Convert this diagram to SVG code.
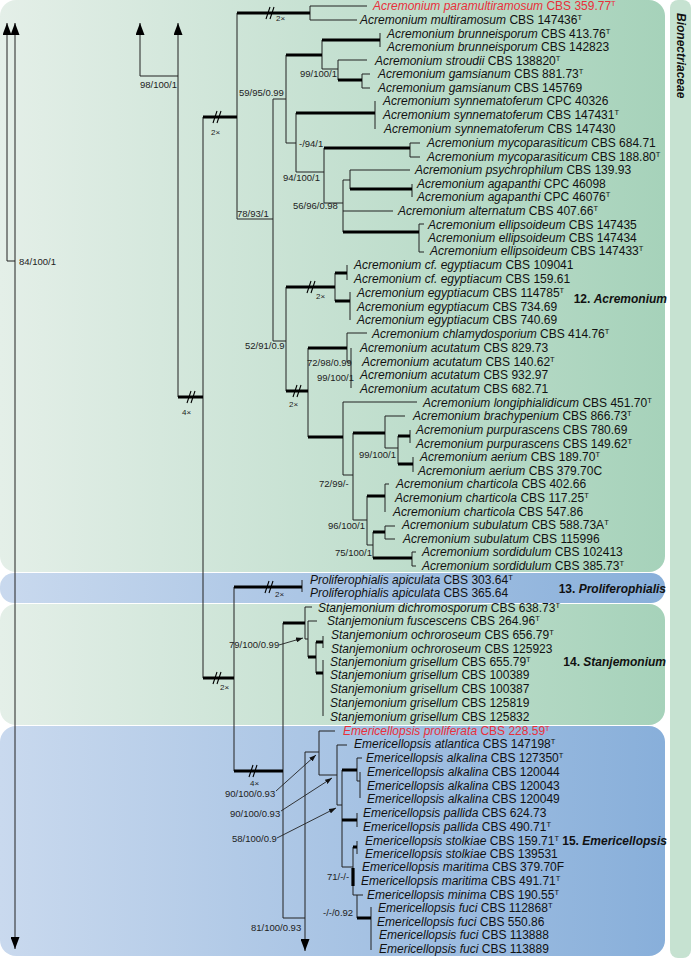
<svg xmlns="http://www.w3.org/2000/svg" xmlns:xlink="http://www.w3.org/1999/xlink" width="691" height="958" viewBox="0 0 691 958">
<style>
text{font-family:"Liberation Sans",Arial,sans-serif}
.t{font-size:12px;fill:#111}
.i{font-style:italic}
.s{font-size:7.5px}
.r{fill:#e8303a}
.sv{font-size:9.5px;fill:#222}
.m{font-size:8px;fill:#222}
.cl{font-size:12px;font-weight:bold;text-anchor:end;fill:#111}
.b{fill:none;stroke:#222;stroke-width:1}
.k{fill:none;stroke:#000;stroke-width:3.2}
.ld{fill:none;stroke:#222;stroke-width:0.9}
</style>
<defs>
<linearGradient id="gg" x1="0" y1="0" x2="1" y2="0"><stop offset="0" stop-color="#e4efe8"/><stop offset="1" stop-color="#a6d2ba"/></linearGradient>
<linearGradient id="bg" x1="0" y1="0" x2="1" y2="0"><stop offset="0" stop-color="#c9d9ee"/><stop offset="1" stop-color="#88afda"/></linearGradient>
<marker id="ah" viewBox="0 0 12 9" refX="12" refY="4.5" markerWidth="12" markerHeight="9" markerUnits="userSpaceOnUse" orient="auto-start-reverse"><path d="M0,0 L12,4.5 L0,9 z" fill="#000"/></marker>
<marker id="sa" viewBox="0 0 7 5" refX="7" refY="2.5" markerWidth="7" markerHeight="5" markerUnits="userSpaceOnUse" orient="auto"><path d="M0,0 L7,2.5 L0,5 z" fill="#111"/></marker>
<path id="brk" d="M-5,6 L-1,-6 M-1,6 L3,-6" stroke="#000" stroke-width="1.1" fill="none"/>
</defs>

<g id="backgrounds">
<rect x="0" y="0" width="665" height="572" rx="16" fill="url(#gg)"/>
<rect x="0" y="573" width="665" height="30" rx="14" fill="url(#bg)"/>
<rect x="0" y="604" width="665" height="121" rx="16" fill="url(#gg)"/>
<rect x="0" y="726" width="665" height="230" rx="16" fill="url(#bg)"/>
<rect x="670" y="0" width="21" height="958" rx="8" fill="#c6e2d1"/>
</g>

<g id="connectors">
<path class="b" d="M15,261 H7 V23" marker-end="url(#ah)"/>
<path class="b" d="M15,949 V23" marker-start="url(#ah)" marker-end="url(#ah)"/>
<path class="b" d="M178,76 H140 V23" marker-end="url(#ah)"/>
<path class="b" d="M178,397 V23" marker-end="url(#ah)"/>
<path class="b" d="M319,752 H305 V951" marker-end="url(#ah)"/>
<path class="b" d="M203,117 V678 M237,13 V219 M310,6 V20 M310,6 H367 M310,20 H357
M237,219 H273 M273,99 V341 M273,99 H286 M286,55 V143
M322,40 V69 M322,69 H338 M338,60 V80 M338,60 H367 M380,33 V47
M362,74 V88 M362,74 H370 M362,88 H370
M286,143 H296 M296,113 V172 M375,101 V129
M296,172 H324 M324,148 V203 M410,143 V157 M410,143 H420 M410,157 H420
M324,203 H343 M343,180 V232 M343,180 H350 M350,170 V189 M350,170 H410 M412,184 V197
M343,211 H393 M419,224 V252 M419,224 H424 M419,252 H424
M273,341 H286 M286,287 V391 M335,273 V301 M347,265 V280 M350,292 V320
M308,348 V437 M347,333 V362 M347,333 H367 M347,362 H351 M351,348 V388
M343,402 V475 M343,402 H417 M343,475 H353 M353,433 V520
M385,416 V448 M385,416 H405 M385,448 H398 M398,436 V464 M410,430 V443 M413,457 V472
M353,520 H367 M367,496 V545 M385,484 V512 M385,484 H389
M367,545 H373 M373,532 V558 M385,526 V539 M385,526 H395 M385,539 H395
M412,552 V566 M412,552 H416 M412,566 H416
M234,587 V771 M302,580 V592 M283,623 V918
M305,607 V639 M305,607 H312 M305,639 H308 M308,621 V657 M308,621 H317
M316,642 V673 M323,636 V648 M323,660 V716
M283,918 H305
M319,731 V775 M319,731 H335 M319,775 H337
M337,745 V805 M337,745 H347 M337,805 H342 M342,770 V867
M357,758 V781 M357,758 H362 M357,781 H360 M360,772 V798 M357,813 V827
M342,867 H353 M353,847 V895 M353,895 H363 M357,841 V854 M357,895 V918 M371,907 V950"/>
<path class="k" d="M178,397 H203 M203,117 H237 M203,678 H234 M237,13 H310
M286,55 H322 M322,40 H380 M338,80 H362 M296,113 H375 M324,148 H410 M350,189 H412 M343,232 H419
M286,287 H335 M335,273 H347 M335,301 H350 M286,391 H308 M308,348 H347 M308,437 H343
M353,433 H385 M398,436 H410 M398,464 H413 M367,496 H385 M373,532 H385 M373,558 H412
M234,587 H302 M234,771 H283 M283,623 H305 M308,657 H316 M316,642 H323 M316,673 H323
M342,770 H357 M342,820 H357 M353,847 H357 M353,868 V886 M357,918 H371"/>
<use xlink:href="#brk" href="#brk" x="218" y="117"/>
<use xlink:href="#brk" href="#brk" x="271" y="13"/>
<use xlink:href="#brk" href="#brk" x="312" y="287"/>
<use xlink:href="#brk" href="#brk" x="298" y="391"/>
<use xlink:href="#brk" href="#brk" x="192" y="397"/>
<use xlink:href="#brk" href="#brk" x="270" y="587"/>
<use xlink:href="#brk" href="#brk" x="218" y="678"/>
<use xlink:href="#brk" href="#brk" x="254" y="771"/>
<path class="ld" d="M279,645 L303,638" marker-end="url(#sa)"/>
<path class="ld" d="M276,791 L316,755" marker-end="url(#sa)"/>
<path class="ld" d="M281,811 L332,778" marker-end="url(#sa)"/>
<path class="ld" d="M277,838 L336,808" marker-end="url(#sa)"/>
</g>

<g id="support-labels">
<text class="sv" x="19" y="265">84/100/1</text>
<text class="sv" x="140" y="88">98/100/1</text>
<text class="sv" x="239" y="96">59/95/0.99</text>
<text class="sv" x="300" y="77">99/100/1</text>
<text class="sv" x="299" y="147">-/94/1</text>
<text class="sv" x="283" y="181">94/100/1</text>
<text class="sv" x="293" y="209">56/96/0.98</text>
<text class="sv" x="237" y="217">78/93/1</text>
<text class="sv" x="245" y="349">52/91/0.9</text>
<text class="sv" x="307" y="366">72/98/0.99</text>
<text class="sv" x="317" y="381">99/100/1</text>
<text class="sv" x="359" y="458">99/100/1</text>
<text class="sv" x="319" y="487">72/99/-</text>
<text class="sv" x="328" y="529">96/100/1</text>
<text class="sv" x="335" y="556">75/100/1</text>
<text class="sv" x="229" y="648">79/100/0.99</text>
<text class="sv" x="225" y="797">90/100/0.93</text>
<text class="sv" x="230" y="817">90/100/0.93</text>
<text class="sv" x="232" y="842">58/100/0.9</text>
<text class="sv" x="251" y="931">81/100/0.93</text>
<text class="sv" x="327" y="880">71/-/-</text>
<text class="sv" x="323" y="916">-/-/0.92</text>
<text class="m" x="211" y="135">2×</text>
<text class="m" x="276" y="21">2×</text>
<text class="m" x="316" y="299">2×</text>
<text class="m" x="289" y="407">2×</text>
<text class="m" x="182" y="415">4×</text>
<text class="m" x="275" y="597">2×</text>
<text class="m" x="220" y="690">2×</text>
<text class="m" x="250" y="786">4×</text>
</g>

<g id="clade-labels">
<g id="c12"><text class="cl" x="667" y="303">12. <tspan class="i">Acremonium</tspan></text></g>
<g id="c13"><text class="cl" x="666" y="593">13. <tspan class="i">Proliferophialis</tspan></text></g>
<g id="c14"><text class="cl" x="666" y="666">14. <tspan class="i">Stanjemonium</tspan></text></g>
<g id="c15"><text class="cl" x="667" y="845">15. <tspan class="i">Emericellopsis</tspan></text></g>
<g id="family"><text transform="translate(677,13) rotate(90)" font-size="12" font-weight="bold" font-style="italic" fill="#111">Bionectriaceae</text></g>
</g>

<g id="taxa">
<g id="a01"><text class="t r" x="373" y="10"><tspan class="i">Acremonium paramultiramosum</tspan> CBS 359.77<tspan class="s" dy="-4.5">T</tspan></text></g>
<g id="a02"><text class="t" x="360" y="24"><tspan class="i">Acremonium multiramosum</tspan> CBS 147436<tspan class="s" dy="-4.5">T</tspan></text></g>
<g id="a03"><text class="t" x="387" y="38"><tspan class="i">Acremonium brunneisporum</tspan> CBS 413.76<tspan class="s" dy="-4.5">T</tspan></text></g>
<g id="a04"><text class="t" x="387" y="51"><tspan class="i">Acremonium brunneisporum</tspan> CBS 142823</text></g>
<g id="a05"><text class="t" x="375" y="65"><tspan class="i">Acremonium stroudii</tspan> CBS 138820<tspan class="s" dy="-4.5">T</tspan></text></g>
<g id="a06"><text class="t" x="378" y="78"><tspan class="i">Acremonium gamsianum</tspan> CBS 881.73<tspan class="s" dy="-4.5">T</tspan></text></g>
<g id="a07"><text class="t" x="378" y="92"><tspan class="i">Acremonium gamsianum</tspan> CBS 145769</text></g>
<g id="a08"><text class="t" x="383" y="105"><tspan class="i">Acremonium synnematoferum</tspan> CPC 40326</text></g>
<g id="a09"><text class="t" x="383" y="119"><tspan class="i">Acremonium synnematoferum</tspan> CBS 147431<tspan class="s" dy="-4.5">T</tspan></text></g>
<g id="a10"><text class="t" x="384" y="133"><tspan class="i">Acremonium synnematoferum</tspan> CBS 147430</text></g>
<g id="a11"><text class="t" x="427" y="147"><tspan class="i">Acremonium mycoparasiticum</tspan> CBS 684.71</text></g>
<g id="a12"><text class="t" x="427" y="161"><tspan class="i">Acremonium mycoparasiticum</tspan> CBS 188.80<tspan class="s" dy="-4.5">T</tspan></text></g>
<g id="a13"><text class="t" x="415" y="174"><tspan class="i">Acremonium psychrophilum</tspan> CBS 139.93</text></g>
<g id="a14"><text class="t" x="417" y="188"><tspan class="i">Acremonium agapanthi</tspan> CPC 46098</text></g>
<g id="a15"><text class="t" x="417" y="201"><tspan class="i">Acremonium agapanthi</tspan> CPC 46076<tspan class="s" dy="-4.5">T</tspan></text></g>
<g id="a16"><text class="t" x="398" y="215"><tspan class="i">Acremonium alternatum</tspan> CBS 407.66<tspan class="s" dy="-4.5">T</tspan></text></g>
<g id="a17"><text class="t" x="428" y="229"><tspan class="i">Acremonium ellipsoideum</tspan> CBS 147435</text></g>
<g id="a18"><text class="t" x="428" y="242"><tspan class="i">Acremonium ellipsoideum</tspan> CBS 147434</text></g>
<g id="a19"><text class="t" x="430" y="255"><tspan class="i">Acremonium ellipsoideum</tspan> CBS 147433<tspan class="s" dy="-4.5">T</tspan></text></g>
<g id="a20"><text class="t" x="354" y="269"><tspan class="i">Acremonium cf. egyptiacum</tspan> CBS 109041</text></g>
<g id="a21"><text class="t" x="354" y="283"><tspan class="i">Acremonium cf. egyptiacum</tspan> CBS 159.61</text></g>
<g id="a22"><text class="t" x="357" y="297"><tspan class="i">Acremonium egyptiacum</tspan> CBS 114785<tspan class="s" dy="-4.5">T</tspan></text></g>
<g id="a23"><text class="t" x="357" y="311"><tspan class="i">Acremonium egyptiacum</tspan> CBS 734.69</text></g>
<g id="a24"><text class="t" x="357" y="324"><tspan class="i">Acremonium egyptiacum</tspan> CBS 740.69</text></g>
<g id="a25"><text class="t" x="372" y="338"><tspan class="i">Acremonium chlamydosporium</tspan> CBS 414.76<tspan class="s" dy="-4.5">T</tspan></text></g>
<g id="a26"><text class="t" x="360" y="352"><tspan class="i">Acremonium acutatum</tspan> CBS 829.73</text></g>
<g id="a27"><text class="t" x="362" y="366"><tspan class="i">Acremonium acutatum</tspan> CBS 140.62<tspan class="s" dy="-4.5">T</tspan></text></g>
<g id="a28"><text class="t" x="360" y="379"><tspan class="i">Acremonium acutatum</tspan> CBS 932.97</text></g>
<g id="a29"><text class="t" x="360" y="393"><tspan class="i">Acremonium acutatum</tspan> CBS 682.71</text></g>
<g id="a30"><text class="t" x="423" y="407"><tspan class="i">Acremonium longiphialidicum</tspan> CBS 451.70<tspan class="s" dy="-4.5">T</tspan></text></g>
<g id="a31"><text class="t" x="413" y="420"><tspan class="i">Acremonium brachypenium</tspan> CBS 866.73<tspan class="s" dy="-4.5">T</tspan></text></g>
<g id="a32"><text class="t" x="416" y="434"><tspan class="i">Acremonium purpurascens</tspan> CBS 780.69</text></g>
<g id="a33"><text class="t" x="416" y="448"><tspan class="i">Acremonium purpurascens</tspan> CBS 149.62<tspan class="s" dy="-4.5">T</tspan></text></g>
<g id="a34"><text class="t" x="420" y="461"><tspan class="i">Acremonium aerium</tspan> CBS 189.70<tspan class="s" dy="-4.5">T</tspan></text></g>
<g id="a35"><text class="t" x="418" y="475"><tspan class="i">Acremonium aerium</tspan> CBS 379.70C</text></g>
<g id="a36"><text class="t" x="396" y="488"><tspan class="i">Acremonium charticola</tspan> CBS 402.66</text></g>
<g id="a37"><text class="t" x="395" y="502"><tspan class="i">Acremonium charticola</tspan> CBS 117.25<tspan class="s" dy="-4.5">T</tspan></text></g>
<g id="a38"><text class="t" x="393" y="516"><tspan class="i">Acremonium charticola</tspan> CBS 547.86</text></g>
<g id="a39"><text class="t" x="402" y="529"><tspan class="i">Acremonium subulatum</tspan> CBS 588.73A<tspan class="s" dy="-4.5">T</tspan></text></g>
<g id="a40"><text class="t" x="403" y="543"><tspan class="i">Acremonium subulatum</tspan> CBS 115996</text></g>
<g id="a41"><text class="t" x="422" y="556"><tspan class="i">Acremonium sordidulum</tspan> CBS 102413</text></g>
<g id="a42"><text class="t" x="422" y="570"><tspan class="i">Acremonium sordidulum</tspan> CBS 385.73<tspan class="s" dy="-4.5">T</tspan></text></g>
<g id="p01"><text class="t" x="310" y="584"><tspan class="i">Proliferophialis apiculata</tspan> CBS 303.64<tspan class="s" dy="-4.5">T</tspan></text></g>
<g id="p02"><text class="t" x="310" y="597"><tspan class="i">Proliferophialis apiculata</tspan> CBS 365.64</text></g>
<g id="s01"><text class="t" x="318" y="612"><tspan class="i">Stanjemonium dichromosporum</tspan> CBS 638.73<tspan class="s" dy="-4.5">T</tspan></text></g>
<g id="s02"><text class="t" x="327" y="625"><tspan class="i">Stanjemonium fuscescens</tspan> CBS 264.96<tspan class="s" dy="-4.5">T</tspan></text></g>
<g id="s03"><text class="t" x="331" y="639"><tspan class="i">Stanjemonium ochroroseum</tspan> CBS 656.79<tspan class="s" dy="-4.5">T</tspan></text></g>
<g id="s04"><text class="t" x="331" y="653"><tspan class="i">Stanjemonium ochroroseum</tspan> CBS 125923</text></g>
<g id="s05"><text class="t" x="330" y="666"><tspan class="i">Stanjemonium grisellum</tspan> CBS 655.79<tspan class="s" dy="-4.5">T</tspan></text></g>
<g id="s06"><text class="t" x="330" y="679"><tspan class="i">Stanjemonium grisellum</tspan> CBS 100389</text></g>
<g id="s07"><text class="t" x="330" y="693"><tspan class="i">Stanjemonium grisellum</tspan> CBS 100387</text></g>
<g id="s08"><text class="t" x="330" y="707"><tspan class="i">Stanjemonium grisellum</tspan> CBS 125819</text></g>
<g id="s09"><text class="t" x="330" y="721"><tspan class="i">Stanjemonium grisellum</tspan> CBS 125832</text></g>
<g id="e01"><text class="t r" x="343" y="735"><tspan class="i">Emericellopsis proliferata</tspan> CBS 228.59<tspan class="s" dy="-4.5">T</tspan></text></g>
<g id="e02"><text class="t" x="354" y="748"><tspan class="i">Emericellopsis atlantica</tspan> CBS 147198<tspan class="s" dy="-4.5">T</tspan></text></g>
<g id="e03"><text class="t" x="366" y="762"><tspan class="i">Emericellopsis alkalina</tspan> CBS 127350<tspan class="s" dy="-4.5">T</tspan></text></g>
<g id="e04"><text class="t" x="367" y="776"><tspan class="i">Emericellopsis alkalina</tspan> CBS 120044</text></g>
<g id="e05"><text class="t" x="367" y="790"><tspan class="i">Emericellopsis alkalina</tspan> CBS 120043</text></g>
<g id="e06"><text class="t" x="367" y="803"><tspan class="i">Emericellopsis alkalina</tspan> CBS 120049</text></g>
<g id="e07"><text class="t" x="363" y="817"><tspan class="i">Emericellopsis pallida</tspan> CBS 624.73</text></g>
<g id="e08"><text class="t" x="363" y="831"><tspan class="i">Emericellopsis pallida</tspan> CBS 490.71<tspan class="s" dy="-4.5">T</tspan></text></g>
<g id="e09"><text class="t" x="365" y="845"><tspan class="i">Emericellopsis stolkiae</tspan> CBS 159.71<tspan class="s" dy="-4.5">T</tspan></text></g>
<g id="e10"><text class="t" x="365" y="858"><tspan class="i">Emericellopsis stolkiae</tspan> CBS 139531</text></g>
<g id="e11"><text class="t" x="362" y="871"><tspan class="i">Emericellopsis maritima</tspan> CBS 379.70F</text></g>
<g id="e12"><text class="t" x="361" y="885"><tspan class="i">Emericellopsis maritima</tspan> CBS 491.71<tspan class="s" dy="-4.5">T</tspan></text></g>
<g id="e13"><text class="t" x="367" y="899"><tspan class="i">Emericellopsis minima</tspan> CBS 190.55<tspan class="s" dy="-4.5">T</tspan></text></g>
<g id="e14"><text class="t" x="378" y="912"><tspan class="i">Emericellopsis fuci</tspan> CBS 112868<tspan class="s" dy="-4.5">T</tspan></text></g>
<g id="e15"><text class="t" x="377" y="926"><tspan class="i">Emericellopsis fuci</tspan> CBS 550.86</text></g>
<g id="e16"><text class="t" x="379" y="939"><tspan class="i">Emericellopsis fuci</tspan> CBS 113888</text></g>
<g id="e17"><text class="t" x="379" y="953"><tspan class="i">Emericellopsis fuci</tspan> CBS 113889</text></g>
</g>
</svg>
